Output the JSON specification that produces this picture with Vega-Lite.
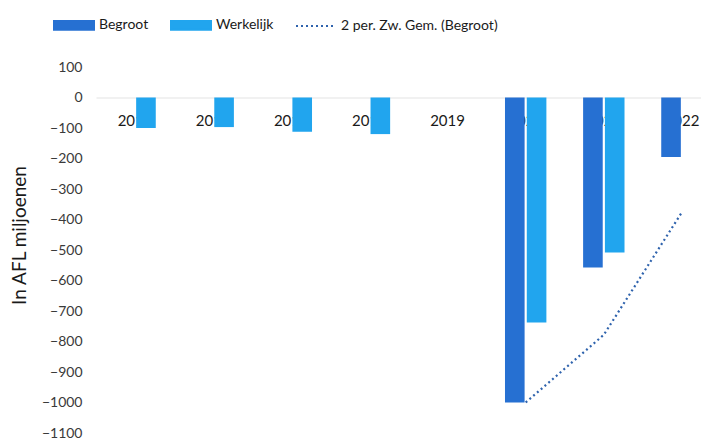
{
  "$schema": "https://vega.github.io/schema/vega-lite/v6.json",
  "autosize": {"type": "none"},
  "width": 605,
  "height": 366,
  "padding": {"left": 96, "top": 67, "right": 0, "bottom": 8},
  "background": "white",
  "config": {
    "view": {"stroke": null},
    "font": "Lato",
    "axis": {"grid": false, "ticks": false}
  },
  "datasets": {
    "bars": [
      {"year": "2015", "series": "Werkelijk", "value": -100},
      {"year": "2016", "series": "Werkelijk", "value": -97},
      {"year": "2017", "series": "Werkelijk", "value": -112},
      {"year": "2018", "series": "Werkelijk", "value": -120},
      {"year": "2020", "series": "Begroot", "value": -1000},
      {"year": "2020", "series": "Werkelijk", "value": -738},
      {"year": "2021", "series": "Begroot", "value": -557},
      {"year": "2021", "series": "Werkelijk", "value": -508},
      {"year": "2022", "series": "Begroot", "value": -195}
    ],
    "avg": [
      {"year": "2020", "series": "2 per. Zw. Gem. (Begroot)", "value": -1000},
      {"year": "2021", "series": "2 per. Zw. Gem. (Begroot)", "value": -778},
      {"year": "2022", "series": "2 per. Zw. Gem. (Begroot)", "value": -376}
    ]
  },
  "encoding": {
    "x": {
      "field": "year", "type": "nominal",
      "scale": {"domain": ["2015","2016","2017","2018","2019","2020","2021","2022"], "range": [0, 625], "paddingInner": 0.47, "paddingOuter": 0.235},
      "axis": {"orient": "bottom", "offset": -335.5, "title": null, "labelAngle": 0, "labelFontSize": 15, "labelColor": "#1a1a1a", "labelPadding": 16, "domainColor": "#e3e3e3", "domainWidth": 1}
    },
    "y": {
      "field": "value", "type": "quantitative",
      "scale": {"domain": [-1100, 100], "nice": false, "zero": false},
      "axis": {"values": [100,0,-100,-200,-300,-400,-500,-600,-700,-800,-900,-1000,-1100], "format": "d", "domain": false, "title": "In AFL miljoenen", "titleFontSize": 19, "titleFontWeight": "normal", "titleColor": "#1a1a1a", "titlePadding": 12, "titleY": 168, "labelFontSize": 14, "labelColor": "#3a3a3a", "labelPadding": 14}
    },
    "color": {
      "field": "series", "type": "nominal",
      "scale": {"domain": ["Begroot", "Werkelijk", "2 per. Zw. Gem. (Begroot)"], "range": ["#2670d2", "#21a5ee", "#2f63ad"]},
      "legend": {
        "orient": "none", "direction": "horizontal", "legendX": -43, "legendY": -63,
        "title": null, "labelFontSize": 14, "labelColor": "#1a1a1a", "labelLimit": 300, "columnPadding": 18, "labelOffset": 4,
        "encode": {
          "symbols": {"update": {
            "shape": [{"test": "datum.label === '2 per. Zw. Gem. (Begroot)'", "value": "M-1,0L1,0"}, {"value": "M-1,-0.22L1,-0.22L1,0.22L-1,0.22Z"}],
            "fill": [{"test": "datum.label === '2 per. Zw. Gem. (Begroot)'", "value": "transparent"}, {"scale": "color", "field": "value"}],
            "stroke": [{"test": "datum.label === '2 per. Zw. Gem. (Begroot)'", "value": "#2f63ad"}, {"value": "transparent"}],
            "strokeDash": [{"test": "datum.label === '2 per. Zw. Gem. (Begroot)'", "value": [2, 3]}, {"value": []}],
            "strokeWidth": {"value": 2},
            "opacity": {"value": 1},
            "size": {"value": 1600}
          }}
        }
      }
    }
  },
  "layer": [
    {
      "data": {"name": "bars"},
      "mark": {"type": "bar"},
      "encoding": {
        "y2": {"datum": 0},
        "xOffset": {"field": "series", "type": "nominal", "scale": {"domain": ["Begroot", "Werkelijk"], "paddingInner": 0.1}}
      }
    },
    {
      "data": {"name": "avg"},
      "mark": {"type": "line", "strokeDash": [2, 3], "strokeWidth": 2.2}
    }
  ]
}
